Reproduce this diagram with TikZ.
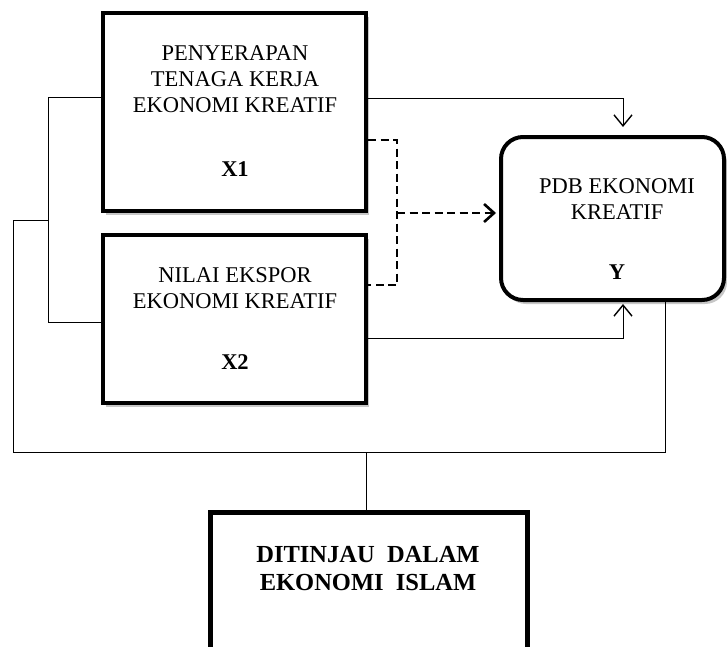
\documentclass[tikz,border=0pt]{standalone}
\usepackage{fontspec}
\setmainfont{Liberation Serif}
\usetikzlibrary{arrows.meta,shadows}
\begin{document}
\begin{tikzpicture}[x=1pt,y=-1pt,
  box/.style={draw=black,line width=4pt,inner sep=0pt,fill=white,
    drop shadow={shadow xshift=3pt,shadow yshift=-4pt,fill=black,opacity=0.22}},
  txt/.style={align=center,inner sep=0pt,font=\fontsize{22.5}{26}\selectfont},
  conn/.style={line width=1pt},
  dconn/.style={line width=2.8pt,dash pattern=on 8pt off 4.5pt},
  tip/.style={-{Straight Barb[length=11pt,width=18pt,line width=1.4pt]}},
  dtip/.style={-{Straight Barb[length=10pt,width=18pt,line width=2.6pt]}}]
\useasboundingbox (0,0) rectangle (727,646);
% boxes
\node[box,minimum width=263pt,minimum height=198pt] (X1) at (234.5,112) {};
\node[box,minimum width=263pt,minimum height=168pt] (X2) at (234.5,319) {};
\node[box,rounded corners=22pt,minimum width=223pt,minimum height=163pt] (Y) at (612.5,218.5) {};
\node[box,line width=5pt,minimum width=317pt,minimum height=140pt] (D) at (368.5,582) {};
% texts
\node[txt] (tX1) at (235,111) {PENYERAPAN\\TENAGA KERJA\\EKONOMI KREATIF\\[38pt]\textbf{X1}};
\node[txt] (tX2) at (235,319) {NILAI EKSPOR\\EKONOMI KREATIF\\[35pt]\textbf{X2}};
\node[txt] (tY) at (617,229) {PDB EKONOMI\\KREATIF\\[34pt]\textbf{Y}};
\node[txt,font=\bfseries\fontsize{24.5}{28}\selectfont] (tD) at (368,569) {DITINJAU\ \ DALAM\\EKONOMI\ \ ISLAM};
% left bracket and outer frame
\coordinate (b1) at (48,97);
\coordinate (b2) at (48,322);
\coordinate (bm) at (48,220);
\coordinate (l1) at (13,220);
\coordinate (l2) at (13,452);
\coordinate (r2) at (665,452);
\coordinate (m2) at (366,452);
\draw[conn] (X1.west |- b1) -- (b1) -- (b2) -- (X2.west |- b2);
\draw[conn] (bm) -- (l1) -- (l2) -- (r2) -- (Y.south -| r2);
\draw[conn] (m2) -- (D.north -| m2);
% arrows to Y
\coordinate (a1) at (623,98);
\coordinate (a2) at (623,338);
\draw[conn,tip,shorten >=8pt] (X1.east |- a1) -- (a1) -- (Y.north -| a1);
\draw[conn,tip,shorten >=2pt] (X2.east |- a2) -- (a2) -- (Y.south -| a2);
% dashed joint path
\coordinate (d1) at (397,140);
\coordinate (d2) at (397,285);
\coordinate (dm) at (397,213);
\draw[dconn] (X1.east |- d1) -- (d1) -- (d2) -- (X2.east |- d2);
\draw[dconn,dtip,shorten >=3pt] (dm) -- (Y.west |- dm);
\end{tikzpicture}
\end{document}
